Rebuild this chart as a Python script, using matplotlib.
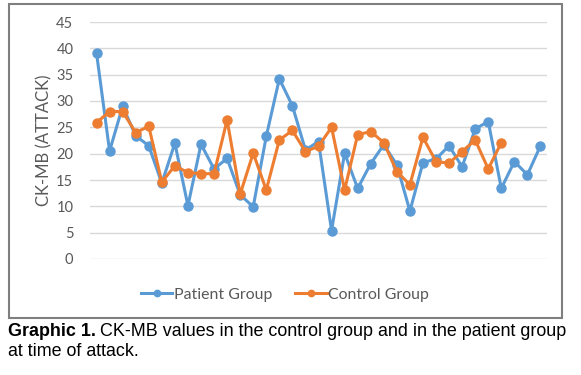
import matplotlib
matplotlib.use("Agg")
import matplotlib.pyplot as plt
from matplotlib.patches import Rectangle

# values
patient = [39.1, 20.5, 29.0, 23.4, 21.5, 14.4, 22.0, 10.1, 21.8, 17.1,
           19.1, 12.2, 9.9, 23.3, 34.2, 29.1, 20.7, 22.3, 5.4, 20.1,
           13.4, 18.1, 21.7, 17.9, 9.1, 18.3, 19.0, 21.5, 17.5, 24.7,
           26.1, 13.4, 18.5, 16.0, 21.5]
control = [25.9, 28.0, 28.0, 24.0, 25.2, 14.6, 17.7, 16.4, 16.2, 16.2,
           26.4, 12.3, 20.1, 13.1, 22.6, 24.4, 20.4, 21.4, 25.0, 13.1,
           23.6, 24.2, 22.1, 16.6, 14.1, 23.1, 18.5, 18.2, 20.4, 22.6,
           17.1, 22.1]
yticks = [0, 5, 10, 15, 20, 25, 30, 35, 40, 45]

blue = '#5B9BD5'
orange = '#ED7D31'
gray = '#595959'

fig = plt.figure(figsize=(5.81, 3.75), dpi=100)
ax = fig.add_axes([90/581, 1 - 259/375, 457/581, 237/375])

ax.plot(range(len(patient)), patient, color=blue, lw=2.2, marker='o',
        ms=6.5, label='Patient Group')
ax.plot(range(len(control)), control, color=orange, lw=2.2, marker='o',
        ms=6.5, label='Control Group')

ax.set_xlim(-0.5, len(patient) - 0.5)
ax.set_ylim(0, 45)
ax.set_yticks(yticks)
ax.set_xticks([])
ax.grid(axis='y', color='#D9D9D9', lw=1)
ax.set_axisbelow(True)
for s in ax.spines.values():
    s.set_visible(False)
ax.tick_params(axis='y', length=0, pad=12, labelsize=10.5, labelcolor=gray)
for t in ax.get_yticklabels():
    t.set_family('Lato')
ax.set_ylabel('CK-MB (ATTACK)', fontsize=12, color=gray, family='Lato',
              labelpad=3)

leg = ax.legend(loc='center', bbox_to_anchor=(285/581, 1 - 295/375),
                bbox_transform=fig.transFigure, ncol=2, frameon=False,
                prop={'family': 'Lato', 'size': 11.4}, labelcolor=gray,
                handlelength=2.0, handletextpad=0.12, columnspacing=1.4,
                markerscale=0.7)

# gray frame around the chart
fig.patches.append(Rectangle((9/581, 1 - 318/375), 553/581, 314/375,
                             transform=fig.transFigure, fill=False,
                             edgecolor='#7F7F7F', lw=1.5))

# caption
fig.canvas.draw()
r = fig.canvas.get_renderer()
t1 = fig.text(8/581, 1 - 332/375, 'Graphic 1.', fontweight='bold',
              family='Liberation Sans', fontsize=12.9, va='center')
bb = t1.get_window_extent(r)
fig.text((bb.x1 + 4)/581, 1 - 332/375,
         'CK-MB values in the control group and in the patient group',
         family='Liberation Sans', fontsize=12.9, va='center')
fig.text(8/581, 1 - 351/375, 'at time of attack.', family='Liberation Sans',
         fontsize=12.9, va='center')

fig.savefig('out.png', dpi=100)
